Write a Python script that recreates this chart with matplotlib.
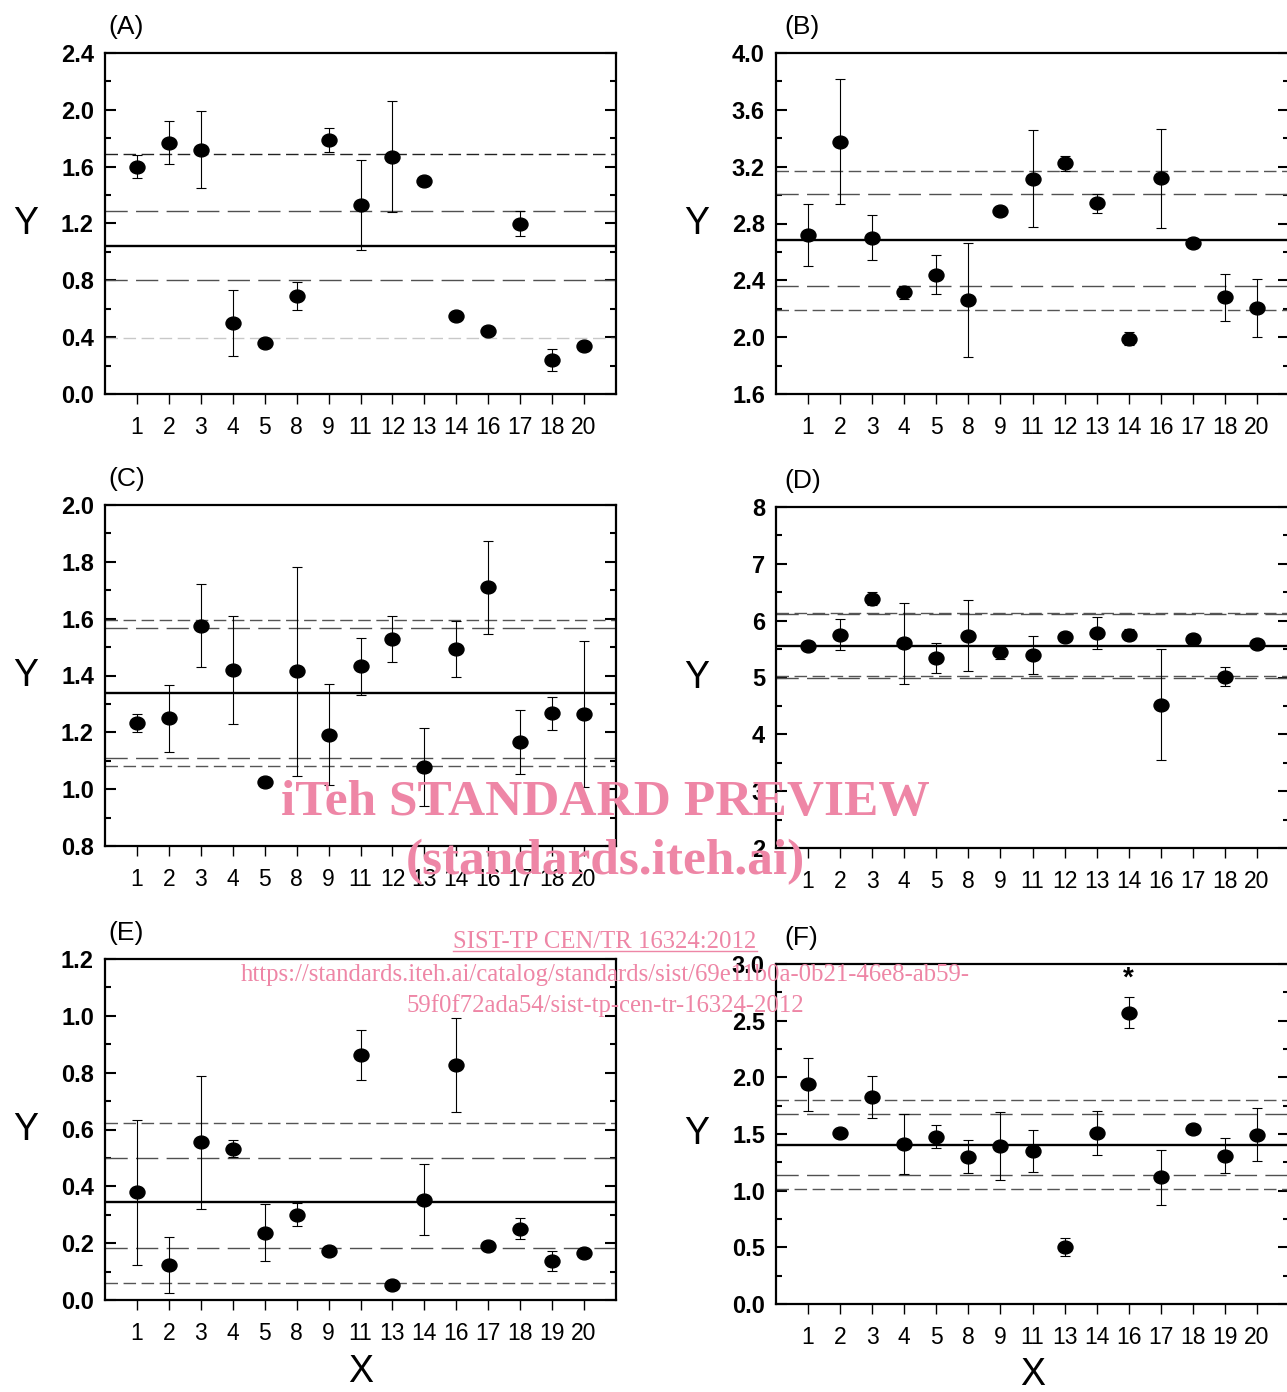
import numpy as np
import matplotlib
matplotlib.use("Agg")
import matplotlib.pyplot as plt
from matplotlib.path import Path
from matplotlib.lines import Line2D
from matplotlib.ticker import MultipleLocator, FormatStrFormatter

plt.rcParams['font.family'] = ['Liberation Sans', 'DejaVu Sans']

# ---- data ----
labels_abcd = ['1', '2', '3', '4', '5', '8', '9', '11', '12', '13', '14', '16', '17', '18', '20']
labels_ef = ['1', '2', '3', '4', '5', '8', '9', '11', '13', '14', '16', '17', '18', '19', '20']

a_y = [1.60, 1.77, 1.72, 0.50, 0.36, 0.69, 1.79, 1.33, 1.67, 1.50, 0.55, 0.44, 1.20, 0.24, 0.34]
a_err = [0.08, 0.15, 0.27, 0.23, 0.0, 0.10, 0.085, 0.32, 0.39, 0.0, 0.0, 0.0, 0.085, 0.08, 0.0]
a_mean, a_inner, a_outer = 1.04, [1.287, 0.803], [1.69, 0.395]

b_y = [2.72, 3.375, 2.70, 2.315, 2.44, 2.26, 2.89, 3.115, 3.223, 2.942, 1.99, 3.118, 2.66, 2.28, 2.205]
b_err = [0.22, 0.44, 0.16, 0.045, 0.137, 0.40, 0.0, 0.34, 0.055, 0.065, 0.043, 0.35, 0.03, 0.165, 0.205]
b_mean, b_inner, b_outer = 2.684, [3.007, 2.361], [3.171, 2.19]

c_y = [1.233, 1.249, 1.575, 1.421, 1.024, 1.415, 1.191, 1.432, 1.527, 1.078, 1.493, 1.71, 1.166, 1.267, 1.264]
c_err = [0.033, 0.118, 0.146, 0.19, 0.0, 0.367, 0.178, 0.10, 0.081, 0.137, 0.10, 0.164, 0.113, 0.058, 0.256]
c_mean, c_inner, c_outer = 1.338, [1.566, 1.11], [1.596, 1.081]

d_y = [5.55, 5.754, 6.387, 5.60, 5.343, 5.736, 5.449, 5.396, 5.707, 5.783, 5.754, 4.522, 5.683, 5.015, 5.59]
d_err = [0.0, 0.27, 0.11, 0.71, 0.267, 0.63, 0.12, 0.33, 0.0, 0.28, 0.1, 0.98, 0.0, 0.17, 0.0]
d_mean, d_inner, d_outer = 5.554, [6.11, 5.00], [6.14, 5.02]

e_y = [0.379, 0.123, 0.555, 0.533, 0.237, 0.30, 0.174, 0.863, 0.054, 0.353, 0.827, 0.191, 0.25, 0.137, 0.167]
e_err = [0.255, 0.10, 0.234, 0.03, 0.10, 0.041, 0.0, 0.088, 0.0, 0.125, 0.166, 0.0, 0.037, 0.036, 0.0]
e_mean, e_inner, e_outer = 0.344, [0.501, 0.182], [0.622, 0.061]

f_y = [1.938, 1.509, 1.826, 1.412, 1.476, 1.30, 1.394, 1.347, 0.506, 1.512, 2.571, 1.118, 1.541, 1.309, 1.494]
f_err = [0.233, 0.0, 0.187, 0.263, 0.103, 0.147, 0.30, 0.184, 0.08, 0.194, 0.136, 0.243, 0.0, 0.155, 0.235]
f_mean, f_inner, f_outer = 1.406, [1.679, 1.141], [1.803, 1.015]

W, H = 1287, 1392
fig = plt.figure(figsize=(W / 100, H / 100), dpi=100)

# slightly flattened dot, as in the source image
circ = Path.unit_circle()
dot = Path(circ.vertices * [1.17, 1.0], circ.codes)


def px_axes(left, top, right, bottom):
    return fig.add_axes([left / W, 1 - bottom / H, (right - left) / W, (bottom - top) / H])


def panel(ax, y, err, labels, mean, inner, outer, ylim, major, fmt, tag, tagx,
          outer_cols=('#555555', '#555555'), xlabel=False):
    x = np.arange(1, len(y) + 1)
    ax.axhline(mean, color='black', lw=1.7, zorder=2)
    for v in inner:
        ax.axhline(v, color='#505050', lw=1.0, ls=(0, (16, 6)), zorder=2)
    for v, c in zip(outer, outer_cols):
        ax.axhline(v, color=c, lw=1.0, ls=(0, (9, 4)), zorder=2)
    ax.errorbar(x, y, yerr=err, fmt='none', ecolor='black', elinewidth=0.8,
                capsize=3.6, capthick=0.8, zorder=3)
    ax.plot(x, y, ls='none', marker=dot, ms=10.8, color='black', zorder=4)

    ax.set_xlim(0, 16)
    ax.set_ylim(*ylim)
    ax.set_xticks(x)
    ax.set_xticklabels(labels)
    ax.tick_params(axis='x', direction='out', length=7.5, width=1, labelsize=16.5,
                   pad=8, top=False)
    ax.yaxis.set_major_locator(MultipleLocator(major))
    ax.yaxis.set_minor_locator(MultipleLocator(major / 2))
    ax.yaxis.set_major_formatter(FormatStrFormatter(fmt))
    ax.tick_params(axis='y', which='major', direction='in', length=8, width=1.5,
                   left=True, right=True, labelsize=17, pad=8)
    ax.tick_params(axis='y', which='minor', direction='in', length=4.5, width=1.5,
                   left=True, right=True)
    plt.setp(ax.get_yticklabels(), fontweight='bold')
    for s in ax.spines.values():
        s.set_linewidth(1.6)

    ax.set_ylabel('Y', rotation=0, fontsize=27, va='center', ha='center')
    ax.yaxis.set_label_coords(-0.155, 0.5)
    ax.text(tagx, 1.075, tag, transform=ax.transAxes, fontsize=19, va='center', ha='left')
    if xlabel:
        ax.set_xlabel('X', fontsize=27, va='center')
        ax.xaxis.set_label_coords(0.5, -0.21)
    return x


axA = px_axes(105, 53, 616, 394)
axB = px_axes(776, 53, 1289, 394)
axC = px_axes(105, 505, 616, 846)
axD = px_axes(776, 507, 1289, 848)
axE = px_axes(105, 959, 616, 1300)
axF = px_axes(776, 964, 1289, 1304)

panel(axA, a_y, a_err, labels_abcd, a_mean, a_inner, a_outer, (0, 2.4), 0.4, '%.1f', '(A)', 0.006,
      outer_cols=('#222222', '#c8c8c8'))
panel(axB, b_y, b_err, labels_abcd, b_mean, b_inner, b_outer, (1.6, 4.0), 0.4, '%.1f', '(B)', 0.016)
panel(axC, c_y, c_err, labels_abcd, c_mean, c_inner, c_outer, (0.8, 2.0), 0.2, '%.1f', '(C)', 0.006)
panel(axD, d_y, d_err, labels_abcd, d_mean, d_inner, d_outer, (2, 8), 1, '%d', '(D)', 0.016)
panel(axE, e_y, e_err, labels_ef, e_mean, e_inner, e_outer, (0, 1.2), 0.2, '%.1f', '(E)', 0.006,
      xlabel=True)
xf = panel(axF, f_y, f_err, labels_ef, f_mean, f_inner, f_outer, (0, 3.0), 0.5, '%.1f', '(F)', 0.016,
           xlabel=True)

# outlier mark above sample 16 in panel F
i16 = labels_ef.index('16')
axF.text(xf[i16], f_y[i16] + f_err[i16] + 0.16, '*', ha='center', va='center',
         fontsize=20, fontweight='bold')

# watermark text of the source document
pink = '#ee86a6'
fig.text(605 / W, 1 - 803 / H, 'iTeh STANDARD PREVIEW', family='Liberation Serif',
         weight='bold', size=37, color=pink, ha='center', va='center', zorder=10)
fig.text(605 / W, 1 - 862 / H, '(standards.iteh.ai)', family='Liberation Serif',
         weight='bold', size=37, color=pink, ha='center', va='center', zorder=10)
sist = fig.text(605 / W, 1 - 942 / H, 'SIST-TP CEN/TR 16324:2012', family='Liberation Serif',
                size=17.8, color=pink, ha='center', va='center', zorder=10)
fig.text(605 / W, 1 - 975 / H,
         'https://standards.iteh.ai/catalog/standards/sist/69e11b0a-0b21-46e8-ab59-',
         family='Liberation Serif', size=17.8, color=pink, ha='center', va='center', zorder=10)
fig.text(605 / W, 1 - 1006 / H, '59f0f72ada54/sist-tp-cen-tr-16324-2012',
         family='Liberation Serif', size=17.8, color=pink, ha='center', va='center', zorder=10)

fig.canvas.draw()
bb = sist.get_window_extent()
fig.add_artist(Line2D([bb.x0 / W, bb.x1 / W], [(bb.y0 + 2) / H, (bb.y0 + 2) / H],
                      color=pink, lw=1.0, zorder=10))

fig.savefig('out.png', dpi=100)
